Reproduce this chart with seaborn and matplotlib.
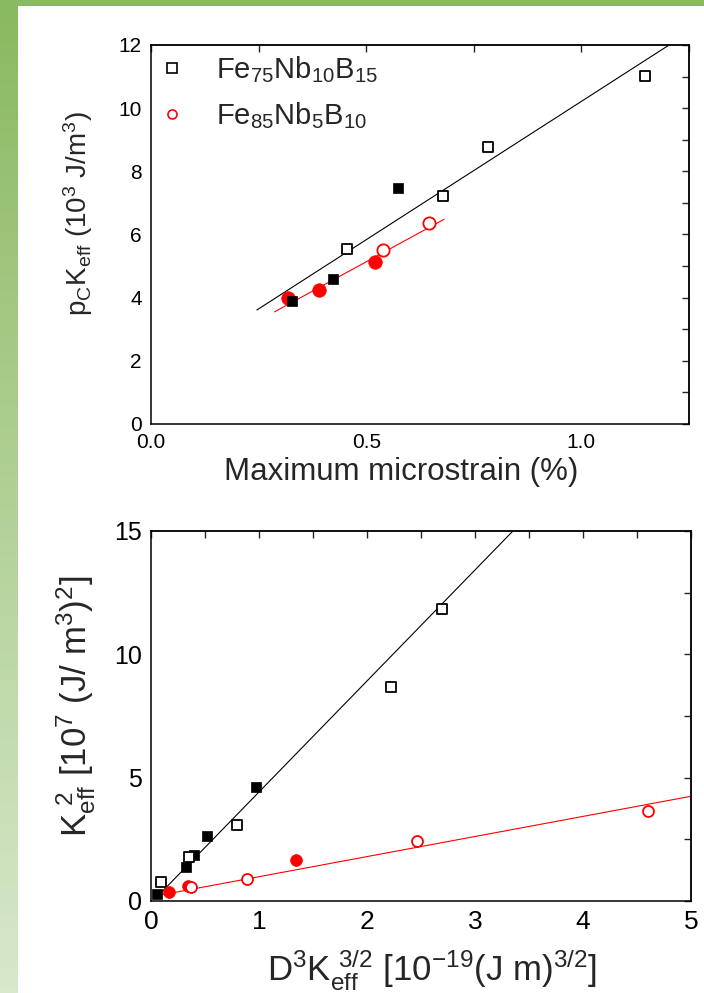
import numpy as np
import pandas as pd
import matplotlib
matplotlib.use("Agg")
import matplotlib.pyplot as plt
import seaborn as sns
from matplotlib.lines import Line2D
from matplotlib.ticker import MultipleLocator

# ---------------- upper panel: p_C K_eff vs maximum microstrain ----------------
strain_fe75_open = [0.455, 0.678, 0.783, 1.147]
pk_fe75_open = [5.55, 7.22, 8.77, 11.02]
strain_fe75_fill = [0.328, 0.424, 0.573]
pk_fe75_fill = [3.88, 4.58, 7.48]
strain_fe85_open = [0.54, 0.647]
pk_fe85_open = [5.5, 6.36]
strain_fe85_fill = [0.319, 0.391, 0.52]
pk_fe85_fill = [4.0, 4.23, 5.13]

# linear fits: (slope, intercept) and x-span
fit_top_fe75 = (8.76, 1.455)
span_top_fe75 = (0.246, 1.204)
fit_top_fe85 = (7.44, 1.415)
span_top_fe85 = (0.287, 0.681)

# ---------------- lower panel: K_eff^2 vs D^3 K_eff^(3/2) ----------------
dk_fe75_open = [0.09, 0.349, 0.80, 2.22, 2.69]
k2_fe75_open = [0.78, 1.77, 3.08, 8.66, 11.82]
dk_fe75_fill = [0.059, 0.324, 0.398, 0.52, 0.972]
k2_fe75_fill = [0.27, 1.36, 1.86, 2.63, 4.63]
dk_fe85_open = [0.37, 0.886, 2.46, 4.60]
k2_fe85_open = [0.555, 0.89, 2.44, 3.66]
dk_fe85_fill = [0.17, 0.34, 1.34]
k2_fe85_fill = [0.35, 0.61, 1.66]

fit_bot_fe75 = (4.50, -0.08)
span_bot_fe75 = (0.05, 3.35)
fit_bot_fe85 = (0.815, 0.17)
span_bot_fe85 = (0.05, 5.0)

legend_labels = [r"Fe$_{75}$Nb$_{10}$B$_{15}$", r"Fe$_{85}$Nb$_{5}$B$_{10}$"]

sns.set_style("white")
plt.rcParams["font.family"] = ["Liberation Sans", "DejaVu Sans"]
plt.rcParams["mathtext.default"] = "regular"
plt.rcParams["axes.linewidth"] = 1.1

RED = "#ff0000"
fig = plt.figure(figsize=(7.04, 9.93), dpi=100)
fig.patch.set_facecolor("white")

# green page frame: gradient strip on the left, solid band on top
strip = fig.add_axes([0, 0, 18 / 704, 1])
top_c = np.array([137, 185, 96]) / 255
bot_c = np.array([216, 232, 203]) / 255
t = np.linspace(0, 1, 256)[:, None]
grad = (top_c[None, :] * (1 - t) + bot_c[None, :] * t)[:, None, :]
strip.imshow(grad, aspect="auto", extent=[0, 1, 0, 1])
strip.axis("off")
band = fig.add_axes([0, 1 - 6 / 993, 1, 6 / 993])
band.set_facecolor(top_c)
band.set_xticks([]); band.set_yticks([])
for s in band.spines.values():
    s.set_visible(False)


def fit_frame(fit, span):
    xs = np.array(span)
    return pd.DataFrame({"x": xs, "y": fit[0] * xs + fit[1]})


def style_axes(ax, xmaj, xmin, ymaj, ymin, lab_size):
    ax.xaxis.set_major_locator(MultipleLocator(xmaj))
    ax.xaxis.set_minor_locator(MultipleLocator(xmin))
    ax.yaxis.set_major_locator(MultipleLocator(ymaj))
    ax.yaxis.set_minor_locator(MultipleLocator(ymin))
    ax.tick_params(which="major", direction="out", length=5, width=1.0,
                   labelsize=lab_size, pad=1.5, colors="black")
    ax.tick_params(which="minor", direction="out", length=3, width=1.0)
    for s in ax.spines.values():
        s.set_color("black")
        s.set_linewidth(1.1)
    # mirrored inward ticks on the top and right spines
    sx = ax.secondary_xaxis("top")
    sx.xaxis.set_major_locator(MultipleLocator(xmaj))
    sx.xaxis.set_minor_locator(MultipleLocator(xmin))
    sx.tick_params(which="both", direction="in", length=5, width=1.0, labeltop=False)
    sy = ax.secondary_yaxis("right")
    sy.yaxis.set_major_locator(MultipleLocator(ymaj))
    sy.yaxis.set_minor_locator(MultipleLocator(ymin))
    sy.tick_params(which="both", direction="in", length=5, width=1.0, labelright=False)


# ---------------- upper panel ----------------
ax1 = fig.add_axes([151 / 704, 1 - 424 / 993, 538 / 704, 379 / 993])
sns.lineplot(data=fit_frame(fit_top_fe75, span_top_fe75), x="x", y="y", ax=ax1,
             color="black", lw=0.8, zorder=2)
sns.lineplot(data=fit_frame(fit_top_fe85, span_top_fe85), x="x", y="y", ax=ax1,
             color=RED, lw=0.8, zorder=2)
sns.scatterplot(x=strain_fe85_fill, y=pk_fe85_fill, ax=ax1, marker="o", s=95,
                color=RED, edgecolor=RED, linewidth=0.5, zorder=3)
sns.scatterplot(x=strain_fe85_open, y=pk_fe85_open, ax=ax1, marker="o", s=78,
                facecolor="white", edgecolor=RED, linewidth=1.3, zorder=3)
sns.scatterplot(x=strain_fe75_fill, y=pk_fe75_fill, ax=ax1, marker="s", s=60,
                color="black", edgecolor="black", linewidth=0.5, zorder=4)
sns.scatterplot(x=strain_fe75_open, y=pk_fe75_open, ax=ax1, marker="s", s=56,
                facecolor="white", edgecolor="black", linewidth=1.3, zorder=4)
ax1.set_xlim(0, 1.25)
ax1.set_ylim(0, 12)
style_axes(ax1, 0.5, 0.25, 2, 1, 15)
ax1.set_xticks([0.0, 0.5, 1.0])
ax1.set_xticklabels(["0.0", "0.5", "1.0"])
ax1.set_xlabel("Maximum microstrain (%)", fontsize=22.5)
ax1.xaxis.set_label_coords(0.465, -0.086)
ax1.set_ylabel(r"p$_C$K$_{eff}$ (10$^3$ J/m$^3$)", fontsize=20)
ax1.yaxis.set_label_coords(-0.104, 0.555)

handles = [
    Line2D([], [], ls="none", marker="s", ms=6.5, mfc="white", mec="black", mew=1.2),
    Line2D([], [], ls="none", marker="o", ms=6.5, mfc="white", mec=RED, mew=1.2),
]
ax1.legend(handles, legend_labels, loc="upper left", bbox_to_anchor=(0.018, 0.975),
           frameon=False, fontsize=21, handlelength=0.8, handletextpad=1.1,
           labelspacing=0.52, borderpad=0, borderaxespad=0)

# ---------------- lower panel ----------------
ax2 = fig.add_axes([151 / 704, 1 - 901 / 993, 540 / 704, 370 / 993])
sns.lineplot(data=fit_frame(fit_bot_fe75, span_bot_fe75), x="x", y="y", ax=ax2,
             color="black", lw=0.8, zorder=2)
sns.lineplot(data=fit_frame(fit_bot_fe85, span_bot_fe85), x="x", y="y", ax=ax2,
             color=RED, lw=0.8, zorder=2)
sns.scatterplot(x=dk_fe75_fill, y=k2_fe75_fill, ax=ax2, marker="s", s=56,
                color="black", edgecolor="black", linewidth=0.5, zorder=3)
sns.scatterplot(x=dk_fe75_open, y=k2_fe75_open, ax=ax2, marker="s", s=48,
                facecolor="white", edgecolor="black", linewidth=1.3, zorder=3)
sns.scatterplot(x=dk_fe85_fill, y=k2_fe85_fill, ax=ax2, marker="o", s=72,
                color=RED, edgecolor=RED, linewidth=0.5, zorder=4)
sns.scatterplot(x=dk_fe85_open, y=k2_fe85_open, ax=ax2, marker="o", s=62,
                facecolor="white", edgecolor=RED, linewidth=1.3, zorder=4)
ax2.set_xlim(0, 5)
ax2.set_ylim(0, 15)
style_axes(ax2, 1, 0.5, 5, 2.5, 19)
ax2.tick_params(axis="y", labelsize=18)
ax2.set_xlabel(r"D$^3$K$_{eff}^{\ 3/2}$ [10$^{-19}$(J m)$^{3/2}$]", fontsize=25)
ax2.xaxis.set_label_coords(0.521, -0.125)
ax2.set_ylabel(r"K$_{eff}^{\ 2}$ [10$^7$ (J/ m$^3$)$^2$]", fontsize=25)
ax2.yaxis.set_label_coords(-0.098, 0.527)

fig.savefig("out.png", dpi=100, facecolor="white")
